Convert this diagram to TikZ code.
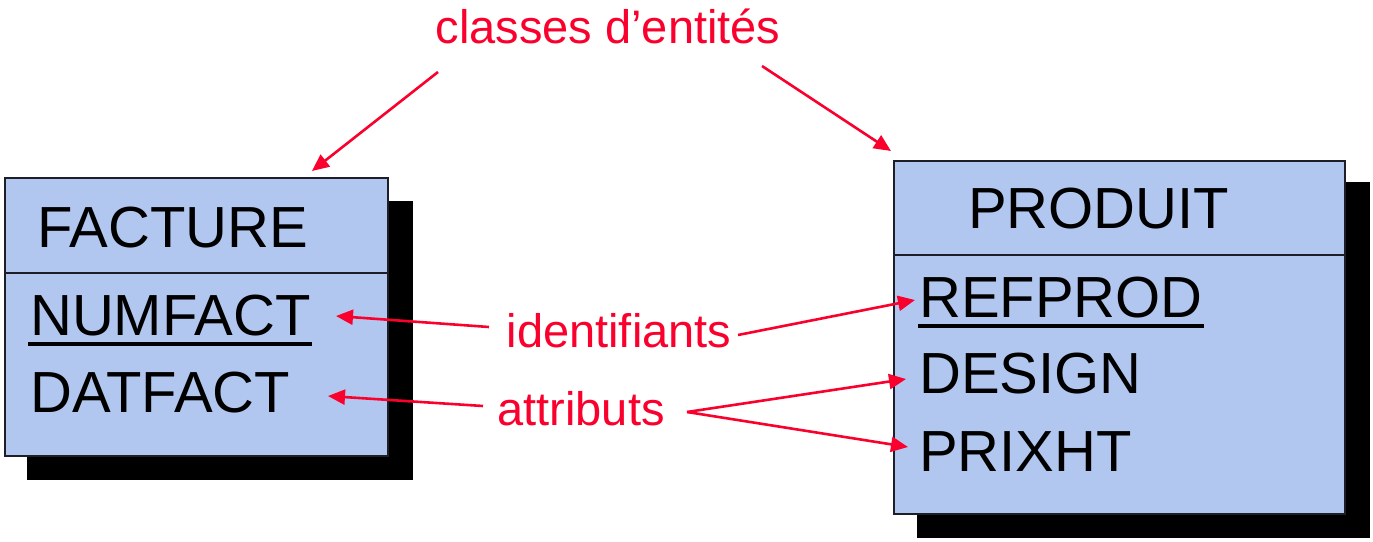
\documentclass[tikz,border=0pt]{standalone}
\usepackage{fontspec}
\setmainfont{Liberation Sans}
\usetikzlibrary{arrows.meta}

\definecolor{boxfill}{RGB}{178,199,239}
\definecolor{boxline}{RGB}{30,30,40}
\definecolor{labelred}{RGB}{250,0,45}

\tikzset{
  entity/.style={draw=boxline, line width=2pt, fill=boxfill, rectangle, inner sep=0pt, anchor=north west},
  shadowbox/.style={fill=black, draw=none, rectangle, inner sep=0pt, anchor=north west},
  divider/.style={draw=boxline, line width=2pt},
  attr/.style={anchor=base west, inner sep=0pt, font=\fontsize{58}{60}\selectfont},
  keyline/.style={line width=4pt, draw=black},
  note/.style={anchor=base, inner sep=0pt, text=labelred, font=\fontsize{47}{50}\selectfont},
  pointer/.style={draw=labelred, line width=2.6pt, -{Triangle[length=17pt,width=15pt]}},
  plainline/.style={draw=labelred, line width=2.6pt}
}

\begin{document}
\begin{tikzpicture}[x=1pt,y=-1pt]
\useasboundingbox (0,0) rectangle (1373,541);

% FACTURE entity with drop shadow
\node[shadowbox, minimum width=386pt, minimum height=279pt] (factshadow) at (27,201) {};
\node[entity, minimum width=383pt, minimum height=278pt] (facture) at (4,177) {};
\draw[divider] (facture.west |- 0,273) -- (facture.east |- 0,273);
\node[attr] (facttitle) at (37,247) {FACTURE};
\node[attr] (numfact) at (30,335) {NUMFACT};
\draw[keyline] (28,344) -- (312,344);
\node[attr] (datfact) at (30,412) {DATFACT};

% PRODUIT entity with drop shadow
\node[shadowbox, minimum width=453pt, minimum height=356pt] (prodshadow) at (917,182) {};
\node[entity, minimum width=451pt, minimum height=353pt] (produit) at (893,160) {};
\draw[divider] (produit.west |- 0,255) -- (produit.east |- 0,255);
\node[attr] (prodtitle) at (968,228) {PRODUIT};
\node[attr] (refprod) at (919,317) {REFPROD};
\draw[keyline] (918,326) -- (1204,326);
\node[attr] (design) at (919,393) {DESIGN};
\node[attr] (prixht) at (919,471) {PRIXHT};

% Red annotations
\node[note] (classes) at (608,43) {classes d’entités};
\node[note] (ident) at (619,347) {identifiants};
\node[note] (attribs) at (581,425) {attributs};

% Start and end points of the pointers
\coordinate (clsL) at (438,72);
\coordinate (clsR) at (762,66);
\coordinate (tipFact) at (312,171);
\coordinate (tipProd) at (891,151);
\coordinate (idL) at (489,327);
\coordinate (idR) at (738,335);
\coordinate (tipNum) at (336,316);
\coordinate (tipRef) at (915,300);
\coordinate (atL) at (483,406);
\coordinate (atR) at (687,412);
\coordinate (tipDat) at (328,396);
\coordinate (tipDes) at (906,379);
\coordinate (tipPrix) at (908,447);

\draw[pointer] (clsL) -- (tipFact);
\draw[pointer] (clsR) -- (tipProd);
\draw[pointer] (idL) -- (tipNum);
\draw[pointer] (idR) -- (tipRef);
\draw[pointer] (atL) -- (tipDat);
\draw[pointer] (atR) -- (tipDes);
\draw[pointer] (atR) -- (tipPrix);
\end{tikzpicture}
\end{document}
